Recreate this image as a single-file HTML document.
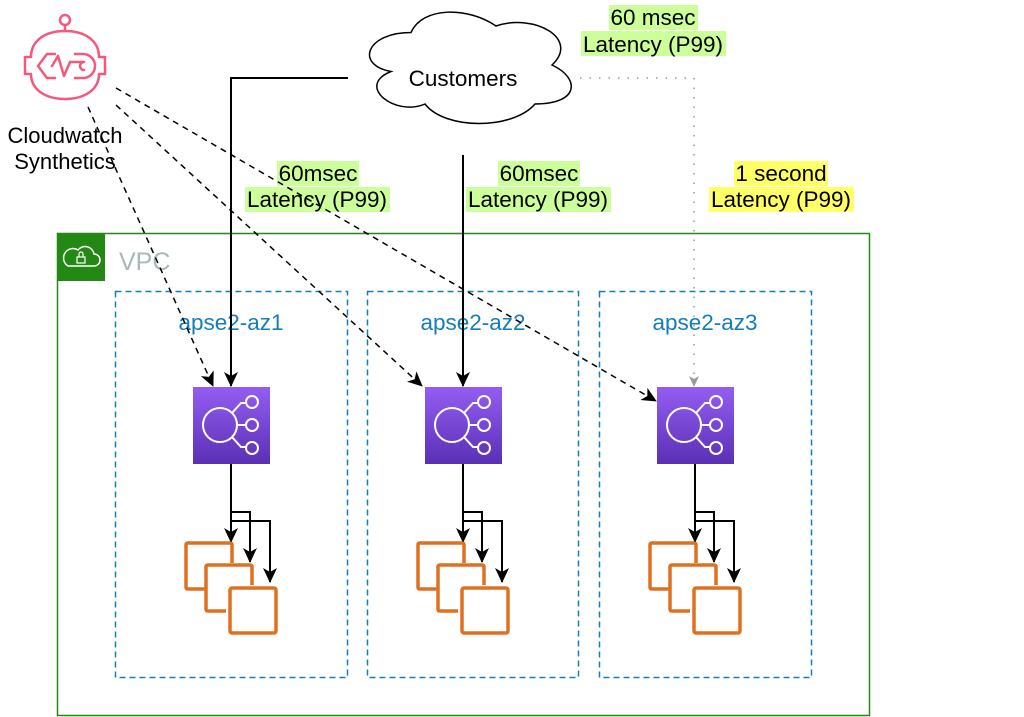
<!DOCTYPE html>
<html><head><meta charset="utf-8"><style>
html,body{margin:0;padding:0;background:#fff;}
svg{display:block;font-family:"Liberation Sans",Arial,sans-serif;}
</style></head><body>
<svg width="1024" height="717" viewBox="0 0 1024 717" xmlns="http://www.w3.org/2000/svg">
<defs>
<marker id="ab" markerWidth="16" markerHeight="16" refX="14" refY="8" orient="auto" markerUnits="userSpaceOnUse"><path d="M0,1 L15,8 L0,15 L4,8 Z" fill="#000"/></marker>
<marker id="ag" markerWidth="12" markerHeight="12" refX="10" refY="6" orient="auto" markerUnits="userSpaceOnUse"><path d="M0,1 L11,6 L0,11 L3,6 Z" fill="#999"/></marker>
<linearGradient id="pg" x1="0" y1="0" x2="0" y2="1"><stop offset="0" stop-color="#945DF2"/><stop offset="1" stop-color="#5A30B5"/></linearGradient>
<g id="elb">
<rect x="0" y="0" width="77" height="77" fill="url(#pg)"/>
<circle cx="27" cy="38" r="17" fill="none" stroke="#fff" stroke-width="2"/>
<path d="M44,38 H54 M39,26 L48,16 H53 M39,50 L48,60 H53" fill="none" stroke="#fff" stroke-width="2"/>
<circle cx="59" cy="15" r="6" fill="none" stroke="#fff" stroke-width="2"/>
<circle cx="59" cy="38" r="6" fill="none" stroke="#fff" stroke-width="2"/>
<circle cx="59" cy="61" r="6" fill="none" stroke="#fff" stroke-width="2"/>
</g>
<g id="ec2" fill="none" stroke="#E07020" stroke-width="3.5" stroke-linejoin="round">
<path d="M20,46 H2 Q0,46 0,44 V2 Q0,0 2,0 H44 Q46,0 46,2 V20"/>
<path d="M40,68 H22 Q20,68 20,66 V24 Q20,22 22,22 H64 Q66,22 66,24 V42"/>
<rect x="44" y="45" width="46" height="45" rx="2"/>
</g>
<g id="fan" fill="none" stroke="#000" stroke-width="2">
<path d="M38,0 V78" marker-end="url(#ab)"/>
<path d="M38,48 H57 V98" marker-end="url(#ab)"/>
<path d="M38,57 H77 V118" marker-end="url(#ab)"/>
</g>
</defs>

<rect x="57.5" y="233.5" width="812" height="482" fill="none" stroke="#248814" stroke-width="1.5"/>
<rect x="57" y="233" width="48" height="48" fill="#248814"/>
<path d="M68,266 H94 A6,6 0 0 0 94,254 A9,9 0 0 0 78,250 A7,7 0 0 0 68,266 Z" fill="none" stroke="#fff" stroke-width="1.5"/>
<rect x="77" y="257" width="8" height="6" fill="none" stroke="#fff" stroke-width="1.2"/>
<path d="M79,257 V254 A2,2 0 0 1 83,254 V257" fill="none" stroke="#fff" stroke-width="1.2"/>
<text x="119" y="270" font-size="25" fill="#AAB7B8">VPC</text>

<g fill="none" stroke="#147EBA" stroke-width="1.5" stroke-dasharray="6,4">
<rect x="115.5" y="291.5" width="232" height="386"/>
<rect x="367.5" y="291.5" width="211" height="386"/>
<rect x="599.5" y="291.5" width="212" height="386"/>
</g>
<g font-size="22.5" fill="#147EBA" text-anchor="middle">
<text x="231" y="330">apse2-az1</text>
<text x="473" y="330">apse2-az2</text>
<text x="705" y="330">apse2-az3</text>
</g>

<use href="#elb" x="193" y="387"/>
<use href="#elb" x="425" y="387"/>
<use href="#elb" x="657" y="387"/>
<use href="#fan" x="193" y="464"/>
<use href="#fan" x="425" y="464"/>
<use href="#fan" x="657" y="464"/>
<use href="#ec2" x="186" y="543"/>
<use href="#ec2" x="418" y="543"/>
<use href="#ec2" x="650" y="543"/>

<g font-size="22.5">
<rect x="277" y="161" width="82" height="25" fill="#CCFF99"/>
<rect x="245" y="187" width="145" height="25" fill="#CCFF99"/>
<text x="318" y="181" text-anchor="middle">60msec</text>
<text x="317" y="207" text-anchor="middle">Latency (P99)</text>

<rect x="498" y="161" width="82" height="25" fill="#CCFF99"/>
<rect x="466" y="187" width="145" height="25" fill="#CCFF99"/>
<text x="539" y="181" text-anchor="middle">60msec</text>
<text x="538" y="207" text-anchor="middle">Latency (P99)</text>

<rect x="609" y="5" width="89" height="25" fill="#CCFF99"/>
<rect x="581" y="31" width="145" height="25" fill="#CCFF99"/>
<text x="653" y="25" text-anchor="middle">60 msec</text>
<text x="653" y="52" text-anchor="middle">Latency (P99)</text>

<rect x="734" y="161" width="94" height="25" fill="#FFFF66"/>
<rect x="709" y="187" width="145" height="25" fill="#FFFF66"/>
<text x="781" y="181" text-anchor="middle">1 second</text>
<text x="781" y="207" text-anchor="middle">Latency (P99)</text>
</g>

<path d="M411,32.5 C366,32.5 355,65 391,71.5 C355,86 395.5,117 425,104 C445,130 512.5,130 535,104 C580,104 580,78 552,65 C580,39 535,13 496,26 C467.5,6.5 422.5,6.5 411,32.5 Z" fill="#fff" stroke="#000" stroke-width="1.5"/>
<text x="463" y="86" font-size="22.5" text-anchor="middle">Customers</text>

<path d="M348,78 H231 V386" fill="none" stroke="#000" stroke-width="2" marker-end="url(#ab)"/>
<path d="M463,155 V386" fill="none" stroke="#000" stroke-width="2" marker-end="url(#ab)"/>
<path d="M580,78 H694 V386" fill="none" stroke="#999" stroke-width="1.5" stroke-dasharray="1.5,8" marker-end="url(#ag)"/>

<g fill="none" stroke="#000" stroke-width="1.5" stroke-dasharray="6,5">
<path d="M88,107 L213,386" marker-end="url(#ab)"/>
<path d="M116,105 L422,386" marker-end="url(#ab)"/>
<path d="M116,88 L656,401" marker-end="url(#ab)"/>
</g>

<g fill="none" stroke="#F4587C" stroke-width="2.5" stroke-linecap="round" stroke-linejoin="round">
<circle cx="65" cy="20" r="5"/>
<path d="M65,25 V31"/>
<path d="M31,57 C31,40 46,31 65,31 C84,31 99,40 99,57 H105 V74 H99 C99,90 84,99 65,99 C46,99 31,90 31,74 H25 V57 Z"/>
<path d="M55,54 H47 L38,66 L47,78 H55"/>
<path d="M75,54 H83 A12,12 0 0 1 83,78 H75"/>
<path d="M52,66 L58,56 L64,76 L70,62 H84 A4,4 0 0 0 84,70"/>
</g>
<text x="65" y="143" font-size="22" text-anchor="middle">Cloudwatch</text>
<text x="65" y="169" font-size="22" text-anchor="middle">Synthetics</text>
</svg>
</body></html>
